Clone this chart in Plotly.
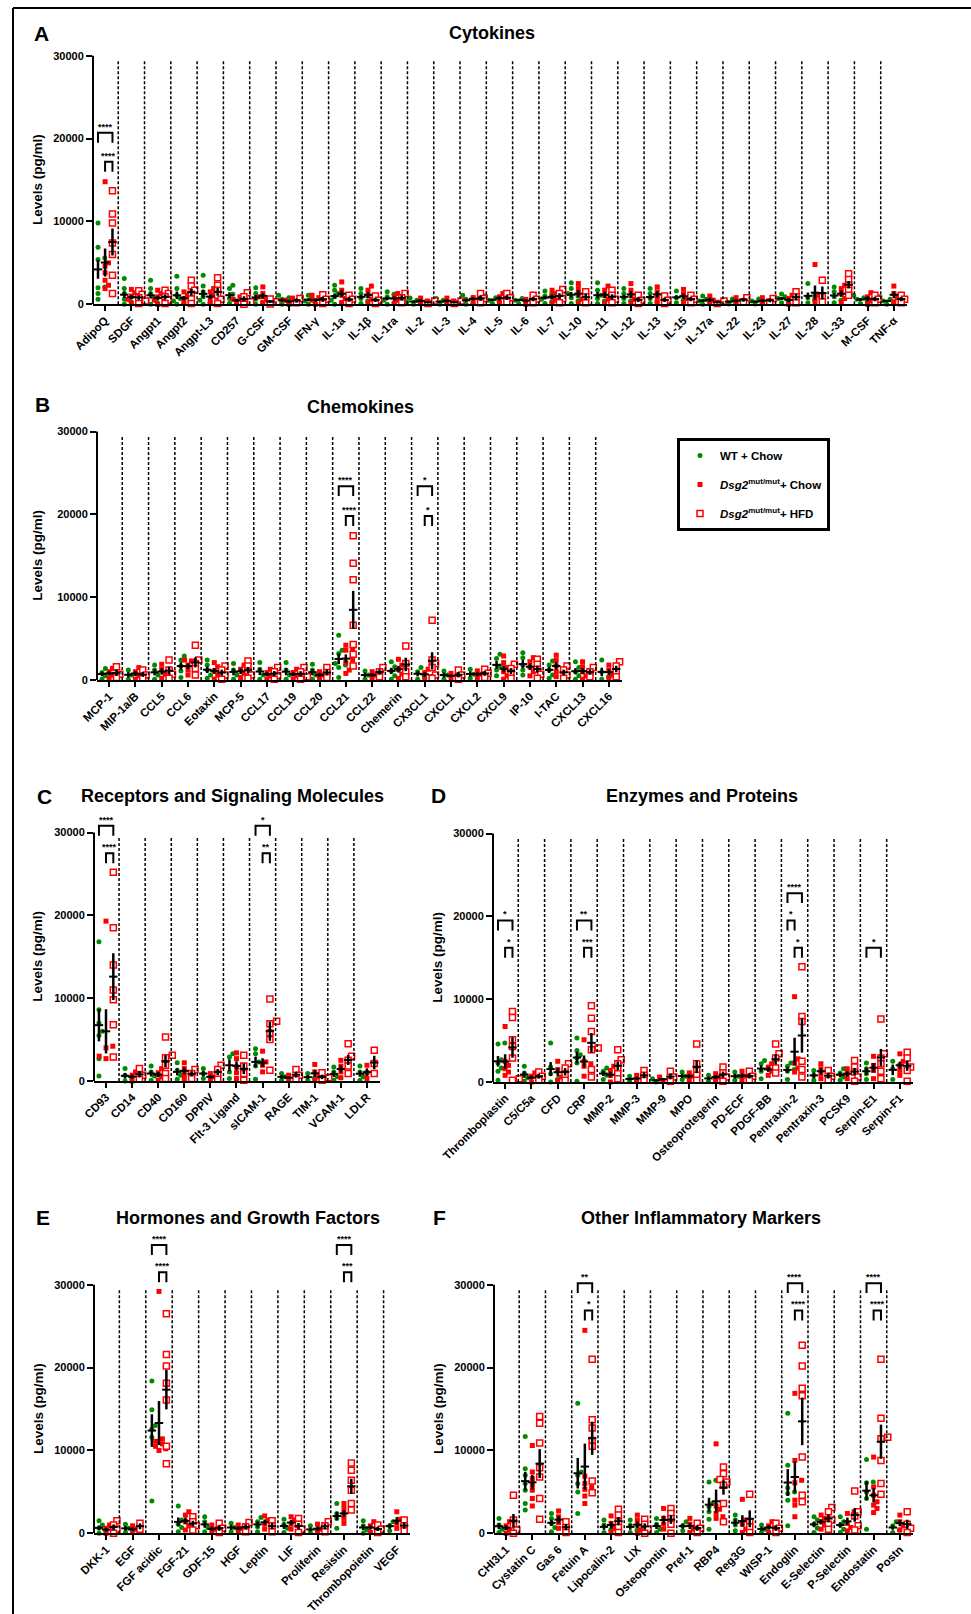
import numpy as np
import plotly.graph_objects as go

W, H = 971, 1614
FONT = "Liberation Sans, Arial, sans-serif"

# ---------------- DATA ----------------
A_cats = ["AdipoQ", "SDGF", "Angpt1", "Angpt2", "Angpt-L3", "CD257", "G-CSF", "GM-CSF", "IFN-γ",
          "IL-1a", "IL-1β", "IL-1ra", "IL-2", "IL-3", "IL-4", "IL-5", "IL-6", "IL-7", "IL-10", "IL-11",
          "IL-12", "IL-13", "IL-15", "IL-17a", "IL-22", "IL-23", "IL-27", "IL-28", "IL-33", "M-CSF", "TNF-α"]
A_wt = [[9800, 6900, 5600, 5400, 2100, 2000, 1300, 600], [3100, 1900, 1300, 900, 600, 300, 0],
        [2900, 1900, 1300, 800, 500, 200, 0], [3400, 1900, 1100, 700, 400, 100, 0],
        [3500, 2200, 1500, 900, 500, 200, 0], [2300, 1900, 1200, 700, 400, 100],
        [2000, 1300, 900, 600, 200, 0], [1100, 800, 600, 300, 100, 0], [1100, 900, 700, 400, 200, 0],
        [2300, 1700, 1300, 900, 500, 200, 0], [1900, 1300, 1000, 700, 400, 100],
        [1500, 1200, 900, 500, 200, 0], [750, 500, 300, 100, 0], [700, 500, 300, 100, 0],
        [1100, 800, 600, 300, 100, 0], [1000, 800, 500, 300, 100], [1000, 700, 500, 300, 100],
        [1600, 1200, 1000, 600, 300, 100], [2600, 1900, 1300, 1000, 800, 400, 100],
        [2600, 1700, 1100, 700, 400, 100], [1900, 1300, 1000, 700, 400, 100],
        [1900, 1300, 1000, 700, 300, 100], [1600, 1100, 800, 500, 200], [1000, 600, 400, 200, 0],
        [650, 400, 200, 50], [650, 400, 200, 50], [1250, 900, 700, 400, 200], [2500, 1100, 800, 500, 200],
        [2100, 1500, 1200, 900, 500, 200], [1100, 800, 600, 300, 100], [900, 600, 400, 100, 0]]
A_chow = [[14800, 5000, 4600, 3800, 2900, 2300, 1900], [1800, 1400, 1000, 600, 300, 100],
          [1700, 1300, 900, 500, 200, 0], [1500, 1100, 700, 300, 100], [1900, 1500, 1100, 700, 300, 100],
          [900, 600, 300, 100], [2100, 1300, 900, 600, 200], [750, 500, 200, 0], [1100, 800, 500, 200, 0],
          [2700, 1700, 1100, 700, 200], [2200, 1700, 1100, 600, 100], [1300, 900, 500, 100],
          [750, 400, 100], [750, 400, 100], [1100, 800, 500, 200], [1300, 900, 500, 200],
          [900, 600, 300, 0], [1700, 1300, 900, 500, 100], [2500, 1900, 1300, 600, 100],
          [2200, 1700, 1100, 600, 100], [2500, 1700, 1100, 600, 100], [2100, 1500, 900, 300],
          [1800, 1200, 700, 200], [1000, 500, 100], [800, 400, 100], [800, 400, 100], [1100, 700, 300, 0],
          [4800, 1100, 700, 300, 100], [2300, 1900, 1300, 700, 200], [1400, 900, 400, 0],
          [2200, 1300, 800, 300]]
A_hfd = [[13700, 10900, 9800, 7400, 6000, 3500, 1300], [1650, 1200, 800, 400, 100],
         [1700, 1300, 900, 500, 100], [2900, 2200, 1700, 1200, 650, 100], [3200, 2300, 1700, 1100, 600, 100],
         [1400, 900, 300, 0], [650, 300, 50], [700, 200], [1150, 600, 100], [1100, 600, 100],
         [1000, 500, 100], [1300, 800, 200], [400, 100], [400, 100], [1300, 700, 200], [1300, 800, 300],
         [1100, 600, 200], [1800, 1300, 700, 200], [1500, 900, 200], [1700, 1100, 600, 200],
         [1100, 500, 100], [1000, 500, 100], [1100, 600, 200], [400, 100], [800, 300], [700, 250],
         [1500, 900, 200], [2900, 900, 300], [3700, 3000, 2300, 1700, 1100], [1100, 600, 200],
         [1100, 600, 200]]

B_cats = ["MCP-1", "MIP-1a/B", "CCL5", "CCL6", "Eotaxin", "MCP-5", "CCL17", "CCL19", "CCL20", "CCL21",
          "CCL22", "Chemerin", "CX3CL1", "CXCL1", "CXCL2", "CXCL9", "IP-10", "I-TAC", "CXCL13", "CXCL16"]
B_wt = [[1400, 900, 500, 100], [1200, 600, 100], [1800, 1200, 600, 100], [2900, 2400, 1700, 1100, 300],
        [2400, 1800, 1200, 600, 200], [2000, 1200, 600, 100], [2100, 1300, 600, 100], [2100, 1200, 600, 100],
        [1900, 1200, 600, 100], [5400, 3600, 3200, 2000, 1800, 1500, 300], [1100, 600, 100],
        [2200, 1600, 1100, 500, 100], [1500, 1000, 400, 100], [1100, 600, 100], [1300, 700, 200],
        [3100, 2600, 1700, 1200, 500], [3300, 2700, 1800, 1200, 600], [2300, 1800, 1200, 600, 200],
        [2200, 1500, 1000, 500, 100], [2400, 1000, 400, 100]]
B_chow = [[1400, 1000, 600, 200], [1500, 1000, 500, 100], [1900, 1300, 700, 200],
          [2400, 2300, 1800, 1200, 600], [2100, 1600, 1100, 600, 100], [1800, 1300, 800, 300],
          [1300, 900, 500, 100], [1300, 900, 500, 100], [1000, 600, 200],
          [4200, 3800, 3600, 2400, 2100, 1200, 800], [1000, 600, 200], [2500, 1800, 1300, 700, 200],
          [1300, 900, 400, 100], [800, 500, 200], [1100, 700, 300], [2900, 2100, 1500, 1000, 500, 100],
          [2700, 2200, 1600, 1000, 500], [3000, 2400, 1700, 1000, 400], [2200, 1600, 1000, 500, 100],
          [1800, 1200, 600, 200]]
B_hfd = [[1600, 700, 300], [1200, 600, 200], [2400, 1200, 700, 200], [4200, 2400, 2000, 1400, 600],
         [1700, 1200, 600, 100], [2300, 1700, 1100, 600, 200], [1500, 1000, 500, 100], [1500, 1000, 400, 100],
         [1500, 900, 300], [17400, 14100, 12100, 6600, 4300, 3100, 1700], [1500, 1000, 400],
         [4100, 2000, 1000, 400], [7200, 2400, 2000, 1500, 600, 200], [1200, 600, 100], [1300, 800, 300],
         [1900, 1400, 800, 200], [2500, 1900, 1300, 700, 200], [1700, 1200, 600, 200], [1500, 1000, 400],
         [2200, 1700, 1000, 400]]

C_cats = ["CD93", "CD14", "CD40", "CD160", "DPPIV", "Flt-3 Ligand", "sICAM-1", "RAGE", "TIM-1", "VCAM-1", "LDLR"]
C_wt = [[16800, 8600, 7000, 6000, 5500, 2700, 600], [1500, 700, 300, 0], [1800, 1100, 600, 100],
        [2200, 1300, 700, 200], [1500, 900, 300], [3300, 2900, 1100, 300], [3900, 3300, 2300, 1800, 200],
        [900, 500, 100], [900, 400, 100], [1700, 1100, 500, 100], [1800, 1100, 500, 100]]
C_chow = [[19300, 4200, 4000, 3000, 2800, 2700], [1100, 700, 300, 0], [1500, 1000, 500, 100],
          [2200, 1500, 900, 300], [900, 500, 100], [3400, 2700, 1700, 1000, 300], [3600, 2300, 1900, 1100],
          [700, 400, 100], [2000, 1100, 500, 100], [2500, 1800, 1100, 400], [1900, 1000, 300]]
C_hfd = [[25200, 18500, 14000, 11000, 9800, 6800, 2900], [1500, 700, 200], [5300, 3100, 2800, 1900, 900, 300],
         [1400, 900, 300], [1900, 1400, 800, 200], [3100, 1800, 900, 100], [9900, 7200, 6900, 5800, 5000, 1300],
         [1400, 700, 200], [1000, 400, 100], [4500, 3000, 2500, 1800, 900], [3700, 2100, 900]]

D_cats = ["Thromboplastin", "C5/C5a", "CFD", "CRP", "MMP-2", "MMP-3", "MMP-9", "MPO", "Osteoprotegerin",
          "PD-ECF", "PDGF-BB", "Pentraxin-2", "Pentraxin-3", "PCSK9", "Serpin-E1", "Serpin-F1"]
D_wt = [[4700, 4600, 2700, 2300, 1700, 1300, 200], [1900, 1100, 500, 100], [4700, 1800, 1000, 300, 0],
        [5300, 3800, 3300, 2900, 2300, 100], [1700, 1300, 800, 300], [700, 300, 100], [400, 200, 0],
        [1200, 700, 300], [800, 400, 100], [1200, 700, 200], [2600, 2200, 1600, 1300, 400],
        [2300, 1900, 1500, 1300, 300], [1400, 800, 200], [1600, 1100, 600, 200], [2300, 1600, 1000, 300],
        [2500, 1600, 300]]
D_chow = [[6700, 2500, 2000, 1600, 1200, 800], [1100, 700, 300, 0], [2500, 1500, 600, 100],
          [5100, 2500, 2200, 1900, 700], [1900, 1400, 800, 300, 0], [800, 400, 100], [600, 300, 100],
          [1100, 700, 300], [1000, 600, 200], [1300, 700, 300], [2200, 1800, 1300, 800],
          [10300, 2800, 2300, 1700, 1200], [2200, 1600, 1000, 400], [1600, 1000, 400],
          [3100, 2000, 1400, 400], [3400, 2500, 2000, 1400, 800]]
D_hfd = [[8500, 7800, 5100, 4300, 2900, 400, 200], [1200, 700, 200], [2200, 1700, 800, 200],
         [9200, 7700, 6100, 4100, 3900, 1500, 600], [3900, 2700, 2200, 1600, 1000, 400], [1400, 800, 200],
         [1300, 600, 100], [4600, 2200, 1400, 800, 200], [1800, 1100, 600, 100], [1300, 700, 200],
         [4600, 3400, 2900, 1700, 1100], [13900, 7900, 7300, 2500, 1500, 600], [1400, 700, 200],
         [2600, 1800, 1200, 600, 100], [7600, 3400, 2900, 2200, 1300, 400], [3600, 2900, 1800, 1400, 100]]

E_cats = ["DKK-1", "EGF", "FGF acidic", "FGF-21", "GDF-15", "HGF", "Leptin", "LIF", "Proliferin",
          "Resistin", "Thrombopoietin", "VEGF"]
E_wt = [[1500, 1000, 600, 200, 0], [1100, 600, 100], [18400, 14900, 13000, 12600, 11600, 3900],
        [3300, 1600, 1100, 700, 200], [2000, 1400, 700, 200], [1200, 700, 200], [1900, 1400, 800, 200],
        [1700, 1100, 600, 100], [900, 400, 100], [3600, 2400, 2000, 1800, 600], [1500, 900, 400, 0],
        [1400, 900, 300]]
E_chow = [[1000, 600, 200, 0], [900, 500, 100], [29200, 11400, 11100, 10800, 10500, 10200, 10000],
          [2600, 2200, 1400, 900, 400], [1000, 500, 100], [1000, 600, 200], [2100, 1600, 1100, 500],
          [2000, 1600, 1100, 500], [1100, 500, 100], [3600, 3000, 2400, 1800, 1200], [1400, 900, 400, 100],
          [2600, 1700, 1200, 600]]
E_hfd = [[1500, 1000, 500, 0], [1200, 500], [26500, 21600, 20200, 18100, 16100, 10500, 8400],
         [2000, 1400, 900, 400], [1200, 600, 100], [1300, 800, 200], [1500, 900, 200], [1800, 1100, 500, 100],
         [1400, 900, 200], [8500, 7600, 6400, 5200, 3600, 2800], [1000, 500, 100], [1600, 900, 300]]

F_cats = ["CHI3L1", "Cystatin C", "Gas 6", "Fetuin A", "Lipocalin-2", "LIX", "Osteopontin", "Pref-1", "RBP4",
          "Reg3G", "WISP-1", "Endoglin", "E-Selectin", "P-Selectin", "Endostatin", "Postn"]
F_wt = [[1800, 1000, 500, 100], [11700, 7800, 7000, 6000, 5200, 3600, 2800], [2400, 1800, 1200, 700, 200],
        [15700, 7400, 7000, 6000, 5000, 2400], [1600, 1000, 400, 100], [1600, 1000, 400, 100],
        [1800, 1100, 500, 100], [1400, 900, 300], [6400, 6200, 3600, 3200, 2600, 1700, 500],
        [2200, 1600, 1000, 300], [1000, 500, 100], [14500, 8200, 5500, 5000, 4800, 4000, 900],
        [2000, 1600, 1100, 600, 100], [2000, 1400, 1000, 500, 100], [8900, 6200, 6100, 5000, 4200, 500],
        [1400, 900, 400, 100]]
F_chow = [[1400, 900, 400, 0], [10600, 7400, 6600, 5800, 5200, 4200, 3300], [2700, 2000, 1300, 600],
          [24500, 6900, 6000, 5600, 5300, 4500, 3600], [2100, 1200, 600, 100], [2200, 1600, 1000, 400, 0],
          [3000, 1800, 1100, 500], [1800, 1100, 500, 100], [10800, 3300, 2900, 2400, 2000, 1800],
          [4100, 1600, 1100, 500, 100], [1400, 900, 400, 100], [16900, 8800, 6400, 6100, 4000, 3400, 2000],
          [2200, 1800, 1400, 1000, 500], [2600, 2400, 1200, 700, 300], [9200, 5600, 4600, 3800, 3400, 3000, 2500],
          [2200, 1400, 900, 400]]
F_hfd = [[4600, 1600, 1000, 400, 0], [14100, 13300, 10900, 7900, 6800, 4200, 1700], [1400, 700, 100],
         [21000, 13700, 12700, 11200, 10500, 6300, 4900], [2900, 2200, 1400, 700, 100], [1700, 1100, 500, 0],
         [3000, 2400, 1800, 1100, 0], [1200, 600, 100], [8000, 7200, 6500, 6200, 5800, 3600, 1400],
         [4700, 1400, 800, 100], [1200, 600, 100], [22700, 20200, 17500, 16600, 9200, 4600, 3800],
         [3100, 2600, 1600, 1100, 500], [5100, 2600, 2100, 900, 400],
         [21000, 13900, 11600, 11400, 8800, 6000, 4700], [2600, 1100, 600, 100]]

# significance: (category, group a, group b, label, bracket level)
A_sig = [("AdipoQ", "WT", "HFD", "****", 1), ("AdipoQ", "Chow", "HFD", "****", 2)]
B_sig = [("CCL21", "WT", "HFD", "****", 1), ("CCL21", "Chow", "HFD", "****", 2),
         ("CX3CL1", "WT", "HFD", "*", 1), ("CX3CL1", "Chow", "HFD", "*", 2)]
C_sig = [("CD93", "WT", "HFD", "****", 1), ("CD93", "Chow", "HFD", "****", 2),
         ("sICAM-1", "WT", "HFD", "*", 1), ("sICAM-1", "Chow", "HFD", "**", 2)]
D_sig = [("Thromboplastin", "WT", "HFD", "*", 2), ("Thromboplastin", "Chow", "HFD", "*", 3),
         ("CRP", "WT", "HFD", "**", 2), ("CRP", "Chow", "HFD", "***", 3),
         ("Pentraxin-2", "WT", "HFD", "****", 1), ("Pentraxin-2", "WT", "Chow", "*", 2),
         ("Pentraxin-2", "Chow", "HFD", "*", 3), ("Serpin-E1", "WT", "HFD", "*", 3)]
E_sig = [("FGF acidic", "WT", "HFD", "****", 1), ("FGF acidic", "Chow", "HFD", "****", 2),
         ("Resistin", "WT", "HFD", "****", 1), ("Resistin", "Chow", "HFD", "***", 2)]
F_sig = [("Fetuin A", "WT", "HFD", "**", 1), ("Fetuin A", "Chow", "HFD", "*", 2),
         ("Endoglin", "WT", "HFD", "****", 1), ("Endoglin", "Chow", "HFD", "****", 2),
         ("Endostatin", "WT", "HFD", "****", 1), ("Endostatin", "Chow", "HFD", "****", 2)]

GROUP_LABELS = {"WT": "WT + Chow",
                "Chow": "<i>Dsg2</i><sup>mut/mut</sup>+ Chow",
                "HFD": "<i>Dsg2</i><sup>mut/mut</sup>+ HFD"}

# ---------------- STYLE / LAYOUT ----------------
PPU = 248.5 / 30000.0          # pixels per pg/ml
SEP_TOP = 29500
YTICKS = [0, 10000, 20000, 30000]
OFFSETS = {"WT": -0.27, "Chow": 0.0, "HFD": 0.28}
MARKERS = {
    "WT": dict(symbol="circle", size=5, color="#008a00", line=dict(width=0)),
    "Chow": dict(symbol="square", size=5, color="#ff0000", line=dict(width=0)),
    "HFD": dict(symbol="square", size=6, color="white", line=dict(width=1.5, color="#ff0000")),
}

PANELS = [
    dict(letter="A", title="Cytokines", cats=A_cats, data={"WT": A_wt, "Chow": A_chow, "HFD": A_hfd}, sig=A_sig,
         x0=93, x1=907, zero=304.3, ymax=36000, tpos=(491.5, 33), lpos=(41, 33), ytx=37,
         levels={1: 20700, 2: 17200}),
    dict(letter="B", title="Chemokines", cats=B_cats, data={"WT": B_wt, "Chow": B_chow, "HFD": B_hfd}, sig=B_sig,
         x0=97, x1=622, zero=680, ymax=38000, tpos=(360, 407), lpos=(42, 405), ytx=38,
         levels={1: 23400, 2: 19800}),
    dict(letter="C", title="Receptors and Signaling Molecules", cats=C_cats,
         data={"WT": C_wt, "Chow": C_chow, "HFD": C_hfd}, sig=C_sig,
         x0=94, x1=380, zero=1081, ymax=38000, tpos=(232, 796), lpos=(44, 796), ytx=38,
         levels={1: 30800, 2: 27500}),
    dict(letter="D", title="Enzymes and Proteins", cats=D_cats, data={"WT": D_wt, "Chow": D_chow, "HFD": D_hfd},
         sig=D_sig, x0=493, x1=913, zero=1082, ymax=38000, tpos=(702, 796), lpos=(438, 795), ytx=438,
         levels={1: 22800, 2: 19500, 3: 16200}),
    dict(letter="E", title="Hormones and Growth Factors", cats=E_cats,
         data={"WT": E_wt, "Chow": E_chow, "HFD": E_hfd}, sig=E_sig,
         x0=94, x1=410, zero=1533.3, ymax=38000, tpos=(248, 1218), lpos=(43, 1217), ytx=38,
         levels={1: 34800, 2: 31500}),
    dict(letter="F", title="Other Inflammatory Markers", cats=F_cats,
         data={"WT": F_wt, "Chow": F_chow, "HFD": F_hfd}, sig=F_sig,
         x0=494, x1=913, zero=1533.3, ymax=38000, tpos=(701, 1218), lpos=(439, 1217), ytx=438,
         levels={1: 30200, 2: 26900}),
]


def swarm(values, ppc, diam=4.4, step=3.4):
    """Beeswarm-like horizontal offsets (in category units) to avoid overlap."""
    vals = np.asarray(values, dtype=float)
    offs = np.zeros(len(vals))
    placed = []
    for idx in np.argsort(vals):
        y = vals[idx] * PPU
        x = 0.0
        for k in [0, 1, -1, 2, -2, 3, -3]:
            x = k * step
            if all((x - px) ** 2 + (y - py) ** 2 >= diam ** 2 for px, py in placed):
                break
        placed.append((x, y))
        offs[idx] = x / ppc
    return offs


fig = go.Figure()
shapes = []
annotations = []
layout_axes = {}
bold = dict(family=FONT, color="black", weight="bold")

for p_i, P in enumerate(PANELS):
    k = "" if p_i == 0 else str(p_i + 1)
    xa, ya = "x" + k, "y" + k
    n = len(P["cats"])
    ppc = (P["x1"] - P["x0"]) / (n - 0.04)
    top_px = P["zero"] - P["ymax"] * PPU
    layout_axes["xaxis" + k] = dict(
        domain=[P["x0"] / W, P["x1"] / W], anchor=ya, range=[-0.46, n - 0.5], automargin=False,
        tickvals=list(range(n)), ticktext=P["cats"], tickangle=-45, ticklabelstandoff=-2,
        tickfont=dict(size=11.5, **bold), showline=True, linewidth=2, linecolor="black",
        ticks="outside", ticklen=5, tickwidth=2, tickcolor="black", showgrid=False, zeroline=False)
    layout_axes["yaxis" + k] = dict(
        domain=[1 - P["zero"] / H, 1 - top_px / H], anchor=xa, range=[0, P["ymax"]], automargin=False,
        tickvals=YTICKS, ticktext=[str(v) for v in YTICKS], tickfont=dict(size=11, **bold),
        showline=False, ticks="outside", ticklen=6, tickwidth=2, tickcolor="black",
        showgrid=False, zeroline=False)

    # points
    for g in ["WT", "Chow", "HFD"]:
        xs, ys = [], []
        for ci, vals in enumerate(P["data"][g]):
            offs = swarm(vals, ppc)
            xs += list(ci + OFFSETS[g] + offs)
            ys += list(vals)
        fig.add_trace(go.Scatter(
            x=xs, y=ys, mode="markers", marker=MARKERS[g], xaxis=xa, yaxis=ya, cliponaxis=False,
            name=GROUP_LABELS[g], legendgroup=g, showlegend=(p_i == 0), hoverinfo="skip"))

    # mean +/- SEM
    mx, my, me = [], [], []
    for g in ["WT", "Chow", "HFD"]:
        for ci, vals in enumerate(P["data"][g]):
            v = np.asarray(vals, dtype=float)
            mx.append(ci + OFFSETS[g])
            my.append(v.mean())
            me.append(v.std(ddof=1) / np.sqrt(len(v)) if len(v) > 1 else 0.0)
    fig.add_trace(go.Scatter(
        x=mx, y=my, mode="markers", xaxis=xa, yaxis=ya, cliponaxis=False, showlegend=False,
        marker=dict(symbol="line-ew", size=6, color="black", line=dict(width=2, color="black")),
        error_y=dict(type="data", array=me, visible=True, color="black", thickness=2.5, width=0),
        hoverinfo="skip"))

    # dashed separators
    for s in range(n - 1):
        shapes.append(dict(type="line", xref=xa, yref=ya, x0=s + 0.5, x1=s + 0.5, y0=0, y1=SEP_TOP,
                           line=dict(color="black", width=1.5, dash="3px,2px")))
    # y axis line (0 - 30000)
    shapes.append(dict(type="line", xref=xa + " domain", yref=ya, x0=0, x1=0, y0=0, y1=YTICKS[-1],
                       line=dict(color="black", width=2)))

    # significance brackets
    for cat, ga, gb, lab, lev in P["sig"]:
        ci = P["cats"].index(cat)
        xa_ = ci + OFFSETS[ga]
        xb_ = ci + OFFSETS[gb]
        yt = P["levels"][lev]
        yl = yt - 1200
        shapes.append(dict(type="path", xref=xa, yref=ya,
                           path=f"M {xa_},{yl} L {xa_},{yt} L {xb_},{yt} L {xb_},{yl}",
                           line=dict(color="black", width=2)))
        annotations.append(dict(xref=xa, yref=ya, x=(xa_ + xb_) / 2, y=yt, text=lab, showarrow=False,
                                xanchor="center", yanchor="bottom", yshift=-1,
                                font=dict(size=9, **bold)))

    # titles, letters, y titles
    annotations.append(dict(xref="paper", yref="paper", x=P["tpos"][0] / W, y=1 - P["tpos"][1] / H,
                            text=P["title"], showarrow=False, xanchor="center", yanchor="middle",
                            font=dict(size=18, **bold)))
    annotations.append(dict(xref="paper", yref="paper", x=P["lpos"][0] / W, y=1 - P["lpos"][1] / H,
                            text=P["letter"], showarrow=False, xanchor="center", yanchor="middle",
                            font=dict(size=21, **bold)))
    annotations.append(dict(xref="paper", yref=ya, x=P["ytx"] / W, y=15000, text="Levels (pg/ml)",
                            textangle=-90, showarrow=False, xanchor="center", yanchor="middle",
                            font=dict(size=13.5, **bold)))

# figure frame (top and left)
shapes.append(dict(type="line", xref="paper", yref="paper", x0=13 / W, x1=1, y0=1 - 8 / H, y1=1 - 8 / H,
                   line=dict(color="black", width=2)))
shapes.append(dict(type="line", xref="paper", yref="paper", x0=13 / W, x1=13 / W, y0=0, y1=1 - 8 / H,
                   line=dict(color="black", width=2)))

fig.update_layout(
    width=W, height=H, margin=dict(l=0, r=0, t=0, b=0, autoexpand=False),
    paper_bgcolor="white", plot_bgcolor="white",
    font=dict(family=FONT, color="black"),
    shapes=shapes, annotations=annotations,
    legend=dict(x=677 / W, y=1 - 438 / H, xanchor="left", yanchor="top", bgcolor="white",
                bordercolor="black", borderwidth=3, traceorder="grouped", tracegroupgap=10,
                font=dict(size=11.5, **bold)),
    **layout_axes,
)

fig.write_html("out.html", config={"displayModeBar": False},
               post_script="document.body.style.margin='0px'; document.body.style.overflow='hidden';")
